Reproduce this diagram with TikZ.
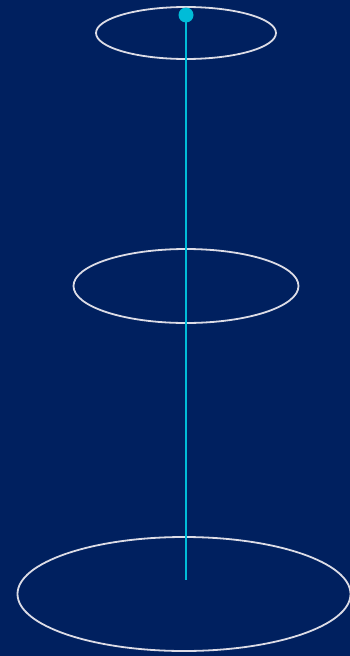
\documentclass[tikz,border=0pt]{standalone}
\definecolor{navy}{HTML}{00205F}
\definecolor{ring}{HTML}{DCDCE6}
\definecolor{cyanline}{HTML}{00BCD8}
\begin{document}
\begin{tikzpicture}[x=1pt,y=-1pt,
  ringstyle/.style={draw=ring,line width=1.8pt},
  axis/.style={draw=cyanline,line width=2.4pt}]
\fill[navy] (0,0) rectangle (350,656);
\useasboundingbox (0,0) rectangle (350,656);
\draw[ringstyle] (186,33) ellipse [x radius=90,y radius=26];
\draw[ringstyle] (186,286) ellipse [x radius=112.5,y radius=37];
\draw[ringstyle] (184,594) ellipse [x radius=166.5,y radius=57];
\coordinate (top) at (186,15);
\coordinate (bottom) at (186,580);
\draw[axis] (top) -- (bottom);
\fill[cyanline] (top) circle (7.5);
\end{tikzpicture}
\end{document}
